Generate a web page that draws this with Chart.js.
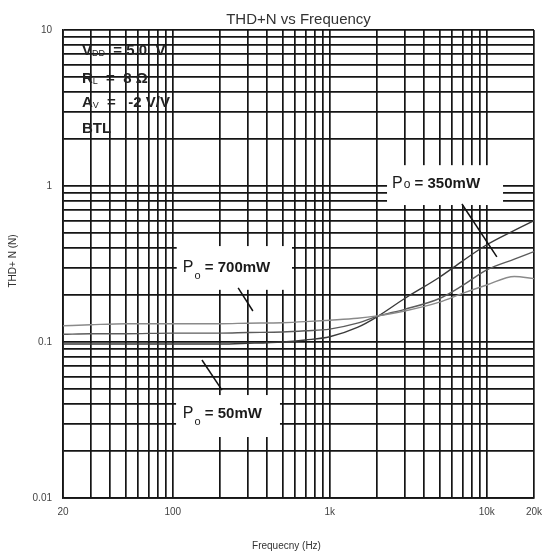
<!DOCTYPE html>
<html>
<head>
<meta charset="utf-8">
<script src="https://cdn.jsdelivr.net/npm/chart.js@4.4.0/dist/chart.umd.min.js"></script>
<style>
  html, body { margin: 0; padding: 0; background: #fff; }
  #wrap { width: 546px; height: 554px; position: relative; }
</style>
</head>
<body>
<div id="wrap"><canvas id="thdChart"></canvas></div>
<script>
'use strict';

// frequency points (Hz) and THD+N (%)
var freqs    = [20, 30, 50, 100, 200, 300, 500, 700, 1000, 1500, 2000, 3000, 5000, 7000, 10000, 15000, 20000];
var thd50mW  = [0.097, 0.097, 0.097, 0.097, 0.097, 0.098, 0.100, 0.103, 0.108, 0.124, 0.145, 0.19, 0.26, 0.33, 0.42, 0.52, 0.60];
var thd350mW = [0.112, 0.113, 0.113, 0.114, 0.114, 0.115, 0.116, 0.118, 0.121, 0.132, 0.146, 0.162, 0.19, 0.23, 0.29, 0.34, 0.38];
var thd700mW = [0.127, 0.129, 0.131, 0.131, 0.131, 0.132, 0.133, 0.135, 0.138, 0.142, 0.147, 0.158, 0.18, 0.205, 0.232, 0.263, 0.255];

var xLabelValues = [20, 100, 1000, 10000, 20000];
var xLabelTexts  = ['20', '100', '1k', '10k', '20k'];
var yLabelValues = [0.01, 0.1, 1, 10];
var yLabelTexts  = ['0.01', '0.1', '1', '10'];

var xMin = 20, xMax = 20000, yMin = 0.01, yMax = 10;

var titleText = 'THD+N vs Frequency';
var xTitleText = 'Frequecny (Hz)';
var yTitleText = 'THD+ N (N)';

// log grid: 1..9 in every decade
function logGrid(min, max) {
  var out = [];
  for (var d = Math.pow(10, Math.floor(Math.log10(min))); d <= max; d *= 10) {
    for (var m = 1; m <= 9; m++) {
      var v = Number((m * d).toPrecision(6));
      if (v >= min * 0.999 && v <= max * 1.001) out.push(v);
    }
  }
  return out;
}

function lookupLabel(v, values, texts) {
  for (var i = 0; i < values.length; i++) {
    if (Math.abs(v - values[i]) / values[i] < 1e-6) return texts[i];
  }
  return '';
}

function toPoints(ys) {
  return freqs.map(function(f, i) { return {x: f, y: ys[i]}; });
}

var gridColor = '#151515';
var fontFamily = "'Liberation Sans', Arial, sans-serif";

var notes = {
  conditions: [
    {f: 26.4, v: 6.92, main: 'V', sub: 'DD', rest: '  = 5.0  V'},
    {f: 26.4, v: 4.57, main: 'R', sub: 'L', rest: '  =  8 Ω'},
    {f: 26.4, v: 3.21, main: 'A', sub: 'V', rest: '  =   -2 V/V'},
    {f: 26.4, v: 2.19, main: 'BTL', sub: '', rest: ''}
  ],
  boxes: [
    {f0: 106, f1: 575, v0: 0.412, v1: 0.216},
    {f0: 105, f1: 482, v0: 0.0457, v1: 0.0246},
    {f0: 2317, f1: 12700, v0: 1.36, v1: 0.755}
  ],
  labels: [
    {f: 116, v: 0.281, rest: ' = 700mW', low: true},
    {f: 116, v: 0.0326, rest: ' = 50mW', low: true},
    {f: 2495, v: 0.971, rest: ' = 350mW', low: false}
  ],
  pointers: [
    [261, 0.222, 324, 0.158],
    [153.5, 0.0767, 206, 0.0492],
    [6950, 0.767, 11600, 0.351]
  ]
};

var notesPlugin = {
  id: 'thdNotes',
  beforeDatasetsDraw: function(chart) {
    var ctx = chart.ctx, xs = chart.scales.x, ys = chart.scales.y;
    ctx.save();
    ctx.fillStyle = '#fff';
    notes.boxes.forEach(function(b) {
      var x0 = xs.getPixelForValue(b.f0), x1 = xs.getPixelForValue(b.f1);
      var y0 = ys.getPixelForValue(b.v0), y1 = ys.getPixelForValue(b.v1);
      ctx.fillRect(x0, y0, x1 - x0, y1 - y0);
    });
    ctx.restore();
  },
  afterDatasetsDraw: function(chart) {
    var ctx = chart.ctx, xs = chart.scales.x, ys = chart.scales.y, area = chart.chartArea;
    ctx.save();

    // pointer lines
    ctx.strokeStyle = '#111';
    ctx.lineWidth = 1.5;
    notes.pointers.forEach(function(p) {
      ctx.beginPath();
      ctx.moveTo(xs.getPixelForValue(p[0]), ys.getPixelForValue(p[1]));
      ctx.lineTo(xs.getPixelForValue(p[2]), ys.getPixelForValue(p[3]));
      ctx.stroke();
    });

    ctx.textBaseline = 'alphabetic';
    ctx.textAlign = 'left';
    ctx.fillStyle = '#222';

    // test conditions
    notes.conditions.forEach(function(c) {
      var x = xs.getPixelForValue(c.f), y = ys.getPixelForValue(c.v);
      ctx.font = 'bold 15px ' + fontFamily;
      ctx.fillText(c.main, x, y);
      x += ctx.measureText(c.main).width;
      if (c.sub) {
        ctx.font = '9px ' + fontFamily;
        ctx.fillText(c.sub, x, y + 1);
        x += ctx.measureText(c.sub).width;
      }
      ctx.font = 'bold 15px ' + fontFamily;
      ctx.fillText(c.rest, x, y);
    });

    // output power labels
    ctx.fillStyle = '#1a1a1a';
    notes.labels.forEach(function(l) {
      var x = xs.getPixelForValue(l.f), y = ys.getPixelForValue(l.v);
      ctx.font = '16px ' + fontFamily;
      ctx.fillText('P', x, y);
      x += ctx.measureText('P').width + 1;
      ctx.font = (l.low ? '11px ' : '12px ') + fontFamily;
      ctx.fillText('o', x, l.low ? y + 7 : y);
      x += ctx.measureText('o').width;
      ctx.font = 'bold 15px ' + fontFamily;
      ctx.fillText(l.rest, x, y);
    });

    // chart title and axis titles
    var cx = (area.left + area.right) / 2;
    ctx.fillStyle = '#333';
    ctx.textAlign = 'center';
    ctx.font = '15px ' + fontFamily;
    ctx.fillText(titleText, cx, area.top - 6);
    ctx.font = '10px ' + fontFamily;
    ctx.fillText(xTitleText, cx - 12, area.bottom + 51);
    ctx.translate(16, (area.top + area.bottom) / 2 - 3);
    ctx.rotate(-Math.PI / 2);
    ctx.font = '10px ' + fontFamily;
    ctx.fillText(yTitleText, 0, 0);
    ctx.restore();
  }
};

var ctx = document.getElementById('thdChart');

var thdChart = new Chart(ctx, {
  type: 'line',
  data: {
    datasets: [
      {label: 'Po = 700mW', data: toPoints(thd700mW), borderColor: '#8a8a8a', borderWidth: 1.4},
      {label: 'Po = 350mW', data: toPoints(thd350mW), borderColor: '#5c5c5c', borderWidth: 1.4},
      {label: 'Po = 50mW', data: toPoints(thd50mW), borderColor: '#3a3a3a', borderWidth: 1.4}
    ]
  },
  options: {
    responsive: true,
    maintainAspectRatio: false,
    animation: false,
    layout: {padding: {top: 30, right: 12, left: 0, bottom: 0}},
    elements: {
      point: {radius: 0},
      line: {cubicInterpolationMode: 'monotone', fill: false}
    },
    plugins: {
      legend: {display: false},
      tooltip: {enabled: false},
      title: {display: false}
    },
    scales: {
      x: {
        type: 'logarithmic',
        min: xMin,
        max: xMax,
        afterBuildTicks: function(scale) {
          scale.ticks = logGrid(xMin, xMax).map(function(v) { return {value: v}; });
        },
        afterFit: function(scale) {
          scale.height = 56;
          scale.paddingLeft = 0;
          scale.paddingRight = 0;
        },
        ticks: {
          autoSkip: false,
          maxRotation: 0,
          padding: 8,
          color: '#444',
          font: {family: fontFamily, size: 10},
          callback: function(v) { return lookupLabel(v, xLabelValues, xLabelTexts); }
        },
        grid: {color: gridColor, lineWidth: 1.7, drawTicks: false},
        border: {display: true, color: gridColor, width: 1.7}
      },
      y: {
        type: 'logarithmic',
        min: yMin,
        max: yMax,
        afterBuildTicks: function(scale) {
          scale.ticks = logGrid(yMin, yMax).map(function(v) { return {value: v}; });
        },
        afterFit: function(scale) {
          scale.width = 63;
          scale.paddingTop = 0;
          scale.paddingBottom = 0;
        },
        ticks: {
          autoSkip: false,
          padding: 11,
          color: '#444',
          font: {family: fontFamily, size: 10},
          callback: function(v) { return lookupLabel(v, yLabelValues, yLabelTexts); }
        },
        grid: {color: gridColor, lineWidth: 1.7, drawTicks: false},
        border: {display: true, color: gridColor, width: 1.7}
      }
    }
  },
  plugins: [notesPlugin]
});
</script>
</body>
</html>
